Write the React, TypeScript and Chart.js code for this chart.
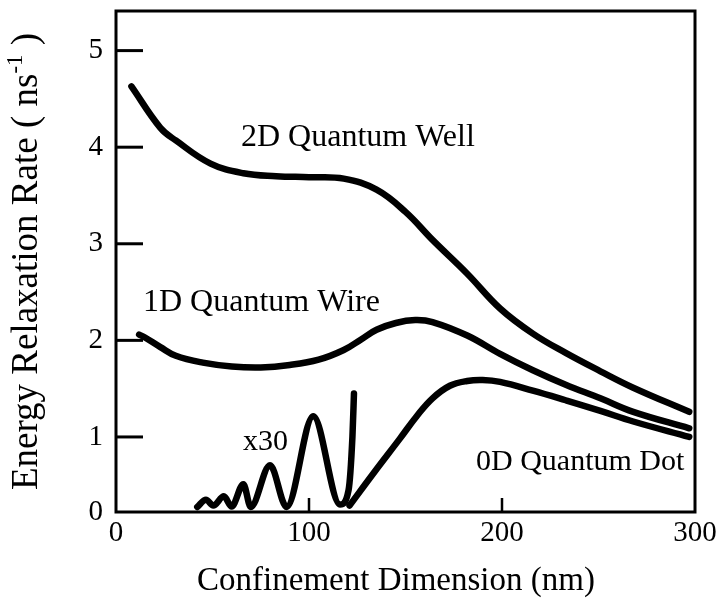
import React, { useEffect, useRef } from "react";
import { Chart, registerables } from "chart.js";

Chart.register(...registerables);

// ---- data ----
const xTickValues = [0, 100, 200, 300];
const yTickValues = [1, 2, 3, 4, 5];
const yAxisMin = 0.223; // bottom edge of the frame, labelled "0"
const yAxisMax = 5.41;

const wellX = [8, 23, 31, 49, 66, 83, 100, 118, 135, 150, 164, 182, 199, 216, 233, 251, 268, 297];
const wellY = [4.63, 4.2, 4.07, 3.83, 3.73, 3.7, 3.69, 3.675, 3.56, 3.33, 3.04, 2.69, 2.33, 2.07, 1.87, 1.68, 1.51, 1.26];

const wireX = [12, 15, 23, 31, 45, 60, 75, 90, 105, 118, 127, 135, 145, 155, 164, 182, 199, 216, 233, 251, 268, 297];
const wireY = [2.06, 2.03, 1.93, 1.84, 1.77, 1.73, 1.72, 1.745, 1.8, 1.9, 2.01, 2.11, 2.18, 2.21, 2.19, 2.05, 1.86, 1.69, 1.54, 1.4, 1.26, 1.09];

const x30X = [42.1, 46.6, 50.4, 55.9, 59.9, 66.0, 69.8, 79.8, 88.4, 102.2, 116.1, 120.5, 122.5, 123.3];
const x30Y = [0.275, 0.35, 0.29, 0.385, 0.28, 0.51, 0.275, 0.707, 0.275, 1.215, 0.3, 0.45, 1.0, 1.45];

const dotX = [121, 134, 147, 156, 164, 173, 182, 190, 199, 216, 233, 251, 268, 297];
const dotY = [0.29, 0.64, 0.98, 1.22, 1.4, 1.53, 1.58, 1.59, 1.57, 1.48, 1.38, 1.27, 1.16, 1.0];

const curveLabels = ["2D Quantum Well", "1D Quantum Wire", "x30", "0D Quantum Dot"];
const xTitle = "Confinement Dimension (nm)";
const yTitleMain = "Energy Relaxation Rate ( ns";
const yTitleSup = "-1";
const yTitleEnd = " )";

const FONT = "'Liberation Serif', 'DejaVu Serif', serif";

function pts(xs: number[], ys: number[]) {
  return xs.map((x, i) => ({ x, y: ys[i] }));
}

const overlayPlugin = {
  id: "overlay",
  afterDraw(chart: any) {
    const ctx = chart.ctx as CanvasRenderingContext2D;
    const { left, right, top, bottom } = chart.chartArea;
    const xs = chart.scales.x;
    const ys = chart.scales.y;
    ctx.save();
    ctx.strokeStyle = "#000";
    ctx.fillStyle = "#000";
    // frame
    ctx.lineWidth = 3;
    ctx.strokeRect(left, top, right - left, bottom - top);
    // inward y ticks
    ctx.lineWidth = 3;
    yTickValues.forEach((v) => {
      const py = ys.getPixelForValue(v);
      ctx.beginPath();
      ctx.moveTo(left, py);
      ctx.lineTo(left + 27, py);
      ctx.stroke();
    });
    // inward x ticks
    ctx.lineWidth = 2.5;
    xTickValues.slice(1, -1).forEach((v) => {
      const px = xs.getPixelForValue(v);
      ctx.beginPath();
      ctx.moveTo(px, bottom);
      ctx.lineTo(px, bottom - 14);
      ctx.stroke();
    });
    // curve labels
    ctx.textAlign = "left";
    ctx.textBaseline = "alphabetic";
    ctx.font = `32px ${FONT}`;
    ctx.fillText(curveLabels[0], 241, 146);
    ctx.fillText(curveLabels[1], 143, 311);
    ctx.font = `30px ${FONT}`;
    ctx.fillText(curveLabels[2], 243, 450);
    ctx.fillText(curveLabels[3], 476, 470);
    // x title
    ctx.font = `33px ${FONT}`;
    ctx.textAlign = "center";
    ctx.fillText(xTitle, 396, 590);
    // y title (rotated, with superscript)
    const mainFont = `37px ${FONT}`;
    const supFont = `23px ${FONT}`;
    ctx.font = mainFont;
    const w1 = ctx.measureText(yTitleMain).width;
    const w3 = ctx.measureText(yTitleEnd).width;
    ctx.font = supFont;
    const w2 = ctx.measureText(yTitleSup).width;
    const total = w1 + w2 + w3;
    const cy = (top + bottom) / 2;
    ctx.translate(37, cy);
    ctx.rotate(-Math.PI / 2);
    ctx.textAlign = "left";
    let x0 = -total / 2;
    ctx.font = mainFont;
    ctx.fillText(yTitleMain, x0, 0);
    x0 += w1;
    ctx.font = supFont;
    ctx.fillText(yTitleSup, x0, -15);
    x0 += w2;
    ctx.font = mainFont;
    ctx.fillText(yTitleEnd, x0, 0);
    ctx.restore();
  },
};

export default function App() {
  const ref = useRef<HTMLCanvasElement | null>(null);
  useEffect(() => {
    document.body.style.margin = "0";
    const canvas = ref.current;
    if (!canvas) return;
    const line = (xs: number[], ys: number[], smooth: boolean) => ({
      data: pts(xs, ys),
      borderColor: "#000",
      backgroundColor: "#000",
      borderWidth: 6.5,
      pointRadius: 0,
      tension: smooth ? 0.4 : 0,
      cubicInterpolationMode: smooth ? ("default" as const) : ("monotone" as const),
      borderCapStyle: "round" as const,
      borderJoinStyle: "round" as const,
      fill: false,
    });
    const chart = new Chart(canvas, {
      type: "line",
      data: {
        datasets: [
          line(wellX, wellY, true),
          line(wireX, wireY, true),
          line(x30X, x30Y, false),
          line(dotX, dotY, true),
        ],
      },
      options: {
        responsive: false,
        animation: false,
        devicePixelRatio: 1,
        layout: { padding: { top: 11, right: 25, left: 0, bottom: 0 } },
        plugins: { legend: { display: false }, tooltip: { enabled: false } },
        scales: {
          x: {
            type: "linear",
            min: 0,
            max: 300,
            grid: { display: false, drawTicks: false },
            border: { display: false },
            afterBuildTicks: (s: any) => {
              s.ticks = xTickValues.map((v) => ({ value: v }));
            },
            afterFit: (s: any) => {
              s.height = 92;
              s.paddingLeft = 0;
              s.paddingRight = 0;
            },
            ticks: {
              color: "#000",
              font: { family: FONT, size: 29 },
              padding: 4,
              maxRotation: 0,
              autoSkip: false,
              callback: (v: any) => String(v),
            },
          },
          y: {
            type: "linear",
            min: yAxisMin,
            max: yAxisMax,
            grid: { display: false, drawTicks: false },
            border: { display: false },
            afterBuildTicks: (s: any) => {
              s.ticks = [yAxisMin, ...yTickValues].map((v) => ({ value: v }));
            },
            afterFit: (s: any) => {
              s.width = 116;
              s.paddingTop = 0;
              s.paddingBottom = 0;
            },
            ticks: {
              color: "#000",
              font: { family: FONT, size: 29 },
              padding: 13,
              autoSkip: false,
              callback: (v: any) => (Number(v) < 0.5 ? "0" : String(v)),
            },
          },
        },
      },
      plugins: [overlayPlugin],
    });
    return () => chart.destroy();
  }, []);
  return (
    <div style={{ position: "absolute", left: 0, top: 0, width: 720, height: 604, background: "#fff" }}>
      <canvas ref={ref} width={720} height={604} style={{ display: "block" }} />
    </div>
  );
}
